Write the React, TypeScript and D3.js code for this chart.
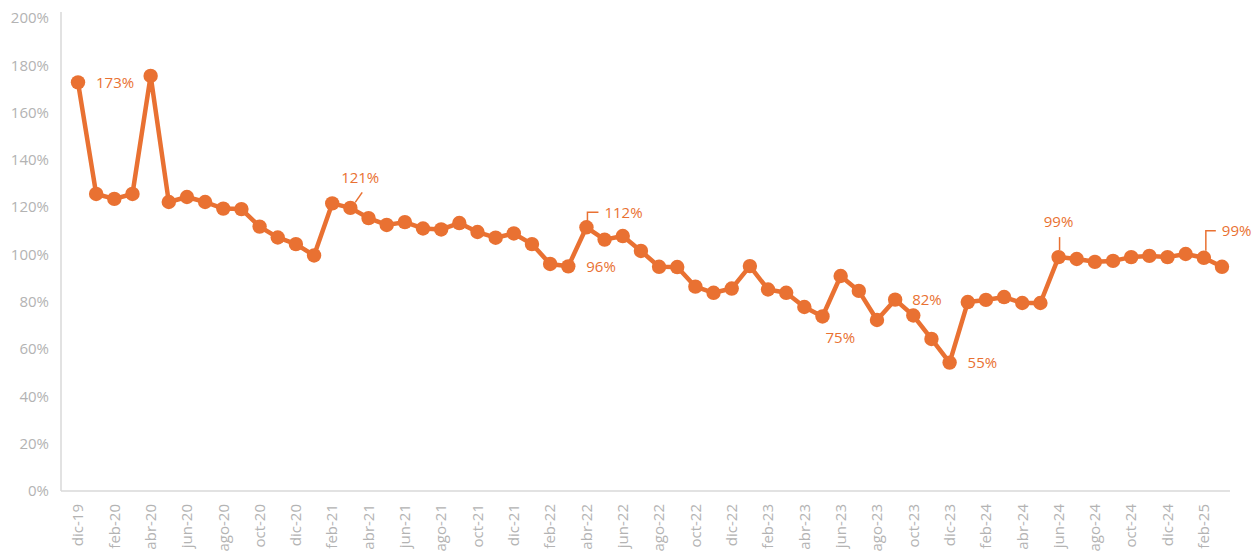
import React from "react";
import * as d3 from "d3";

const months = ["ene", "feb", "mar", "abr", "may", "jun", "jul", "ago", "sep", "oct", "nov", "dic"];
// dic-19 .. mar-25
const periods: string[] = (() => {
  const out: string[] = ["dic-19"];
  for (let y = 20; y <= 25; y++) {
    for (let m = 0; m < 12; m++) {
      if (y === 25 && m > 2) break;
      out.push(`${months[m]}-${y}`);
    }
  }
  return out;
})();

const values: number[] = [
  172.8, 125.6, 123.5, 125.6, 175.5, 122.2, 124.3, 122.2, 119.4, 119.2,
  111.8, 107.2, 104.4, 99.6, 121.6, 119.7, 115.4, 112.5, 113.7, 111.0,
  110.6, 113.3, 109.5, 107.1, 108.9, 104.4, 96.0, 95.0, 111.5, 106.3,
  107.8, 101.5, 94.8, 94.7, 86.4, 83.8, 85.6, 95.1, 85.2, 83.8,
  77.8, 73.8, 90.9, 84.6, 72.3, 80.9, 74.2, 64.3, 54.3, 79.9,
  80.8, 82.0, 79.5, 79.5, 98.9, 98.1, 96.9, 97.3, 98.9, 99.4,
  98.9, 100.2, 98.6, 94.8,
];

const yTicks = [0, 20, 40, 60, 80, 100, 120, 140, 160, 180, 200];

type Lbl = { i: number; text: string; dx: number; dy: number; anchor: string; leader?: [number, number][] };
const dataLabels: Lbl[] = [
  { i: 0, text: "173%", dx: 18, dy: 0, anchor: "start" },
  { i: 14, text: "121%", dx: 28, dy: -26, anchor: "middle", leader: [[30, -11], [23, -1]] },
  { i: 28, text: "112%", dx: 18, dy: -15, anchor: "start", leader: [[12, -15], [1, -15], [1, -6]] },
  { i: 27, text: "96%", dx: 18, dy: 0, anchor: "start" },
  { i: 41, text: "75%", dx: 3, dy: 21, anchor: "start" },
  { i: 45, text: "82%", dx: 17, dy: 0, anchor: "start" },
  { i: 48, text: "55%", dx: 18, dy: 0, anchor: "start" },
  { i: 54, text: "99%", dx: 0, dy: -35, anchor: "middle", leader: [[1, -20], [1, -7]] },
  { i: 62, text: "99%", dx: 18, dy: -27, anchor: "start", leader: [[12, -27], [2, -27], [2, -7]] },
];

const W = 1259;
const H = 553;
const left = 61;
const right = 1230;
const top = 18;
const bottom = 491;
const orange = "#E97132";
const grey = "#B3B3B3";

export default function App() {
  const x = d3
    .scalePoint<string>()
    .domain(periods)
    .range([78, 1222]);
  const y = d3.scaleLinear().domain([0, 200]).range([bottom, top]);
  const line = d3
    .line<number>()
    .x((_, i) => x(periods[i]) as number)
    .y((d) => y(d));

  const xTickLabels = periods.filter((_, i) => i % 2 === 0);

  return (
    <svg
      width={W}
      height={H}
      style={{ position: "absolute", left: 0, top: 0, display: "block", background: "#fff" }}
      fontFamily="'Open Sans', 'Noto Sans', sans-serif"
    >
      <line x1={left} x2={left} y1={12} y2={bottom} stroke="#D9D9D9" strokeWidth={1.5} />
      <line x1={left} x2={right} y1={bottom} y2={bottom} stroke="#D9D9D9" strokeWidth={1.5} />
      {yTicks.map((t) => (
        <text key={t} x={49} y={y(t)} dy="0.35em" textAnchor="end" fontSize={15} fill={grey}>
          {t}%
        </text>
      ))}
      {xTickLabels.map((p) => (
        <text
          key={p}
          transform={`translate(${x(p)},${504}) rotate(-90)`}
          textAnchor="end"
          dy="0.35em"
          fontSize={15}
          fill={grey}
        >
          {p}
        </text>
      ))}
      <path d={line(values) || ""} fill="none" stroke={orange} strokeWidth={4.5} strokeLinejoin="round" />
      {values.map((v, i) => (
        <circle key={i} cx={x(periods[i])} cy={y(v)} r={7.2} fill={orange} />
      ))}
      {dataLabels.map((l, k) => {
        const cx = x(periods[l.i]) as number;
        const cy = y(values[l.i]);
        return (
          <g key={k}>
            {l.leader && (
              <polyline
                points={l.leader.map(([a, b]) => `${cx + a},${cy + b}`).join(" ")}
                fill="none"
                stroke={orange}
                strokeWidth={1.5}
              />
            )}
            <text
              x={cx + l.dx}
              y={cy + l.dy}
              dy="0.35em"
              textAnchor={l.anchor as any}
              fontSize={15}
              fill={orange}
            >
              {l.text}
            </text>
          </g>
        );
      })}
    </svg>
  );
}
